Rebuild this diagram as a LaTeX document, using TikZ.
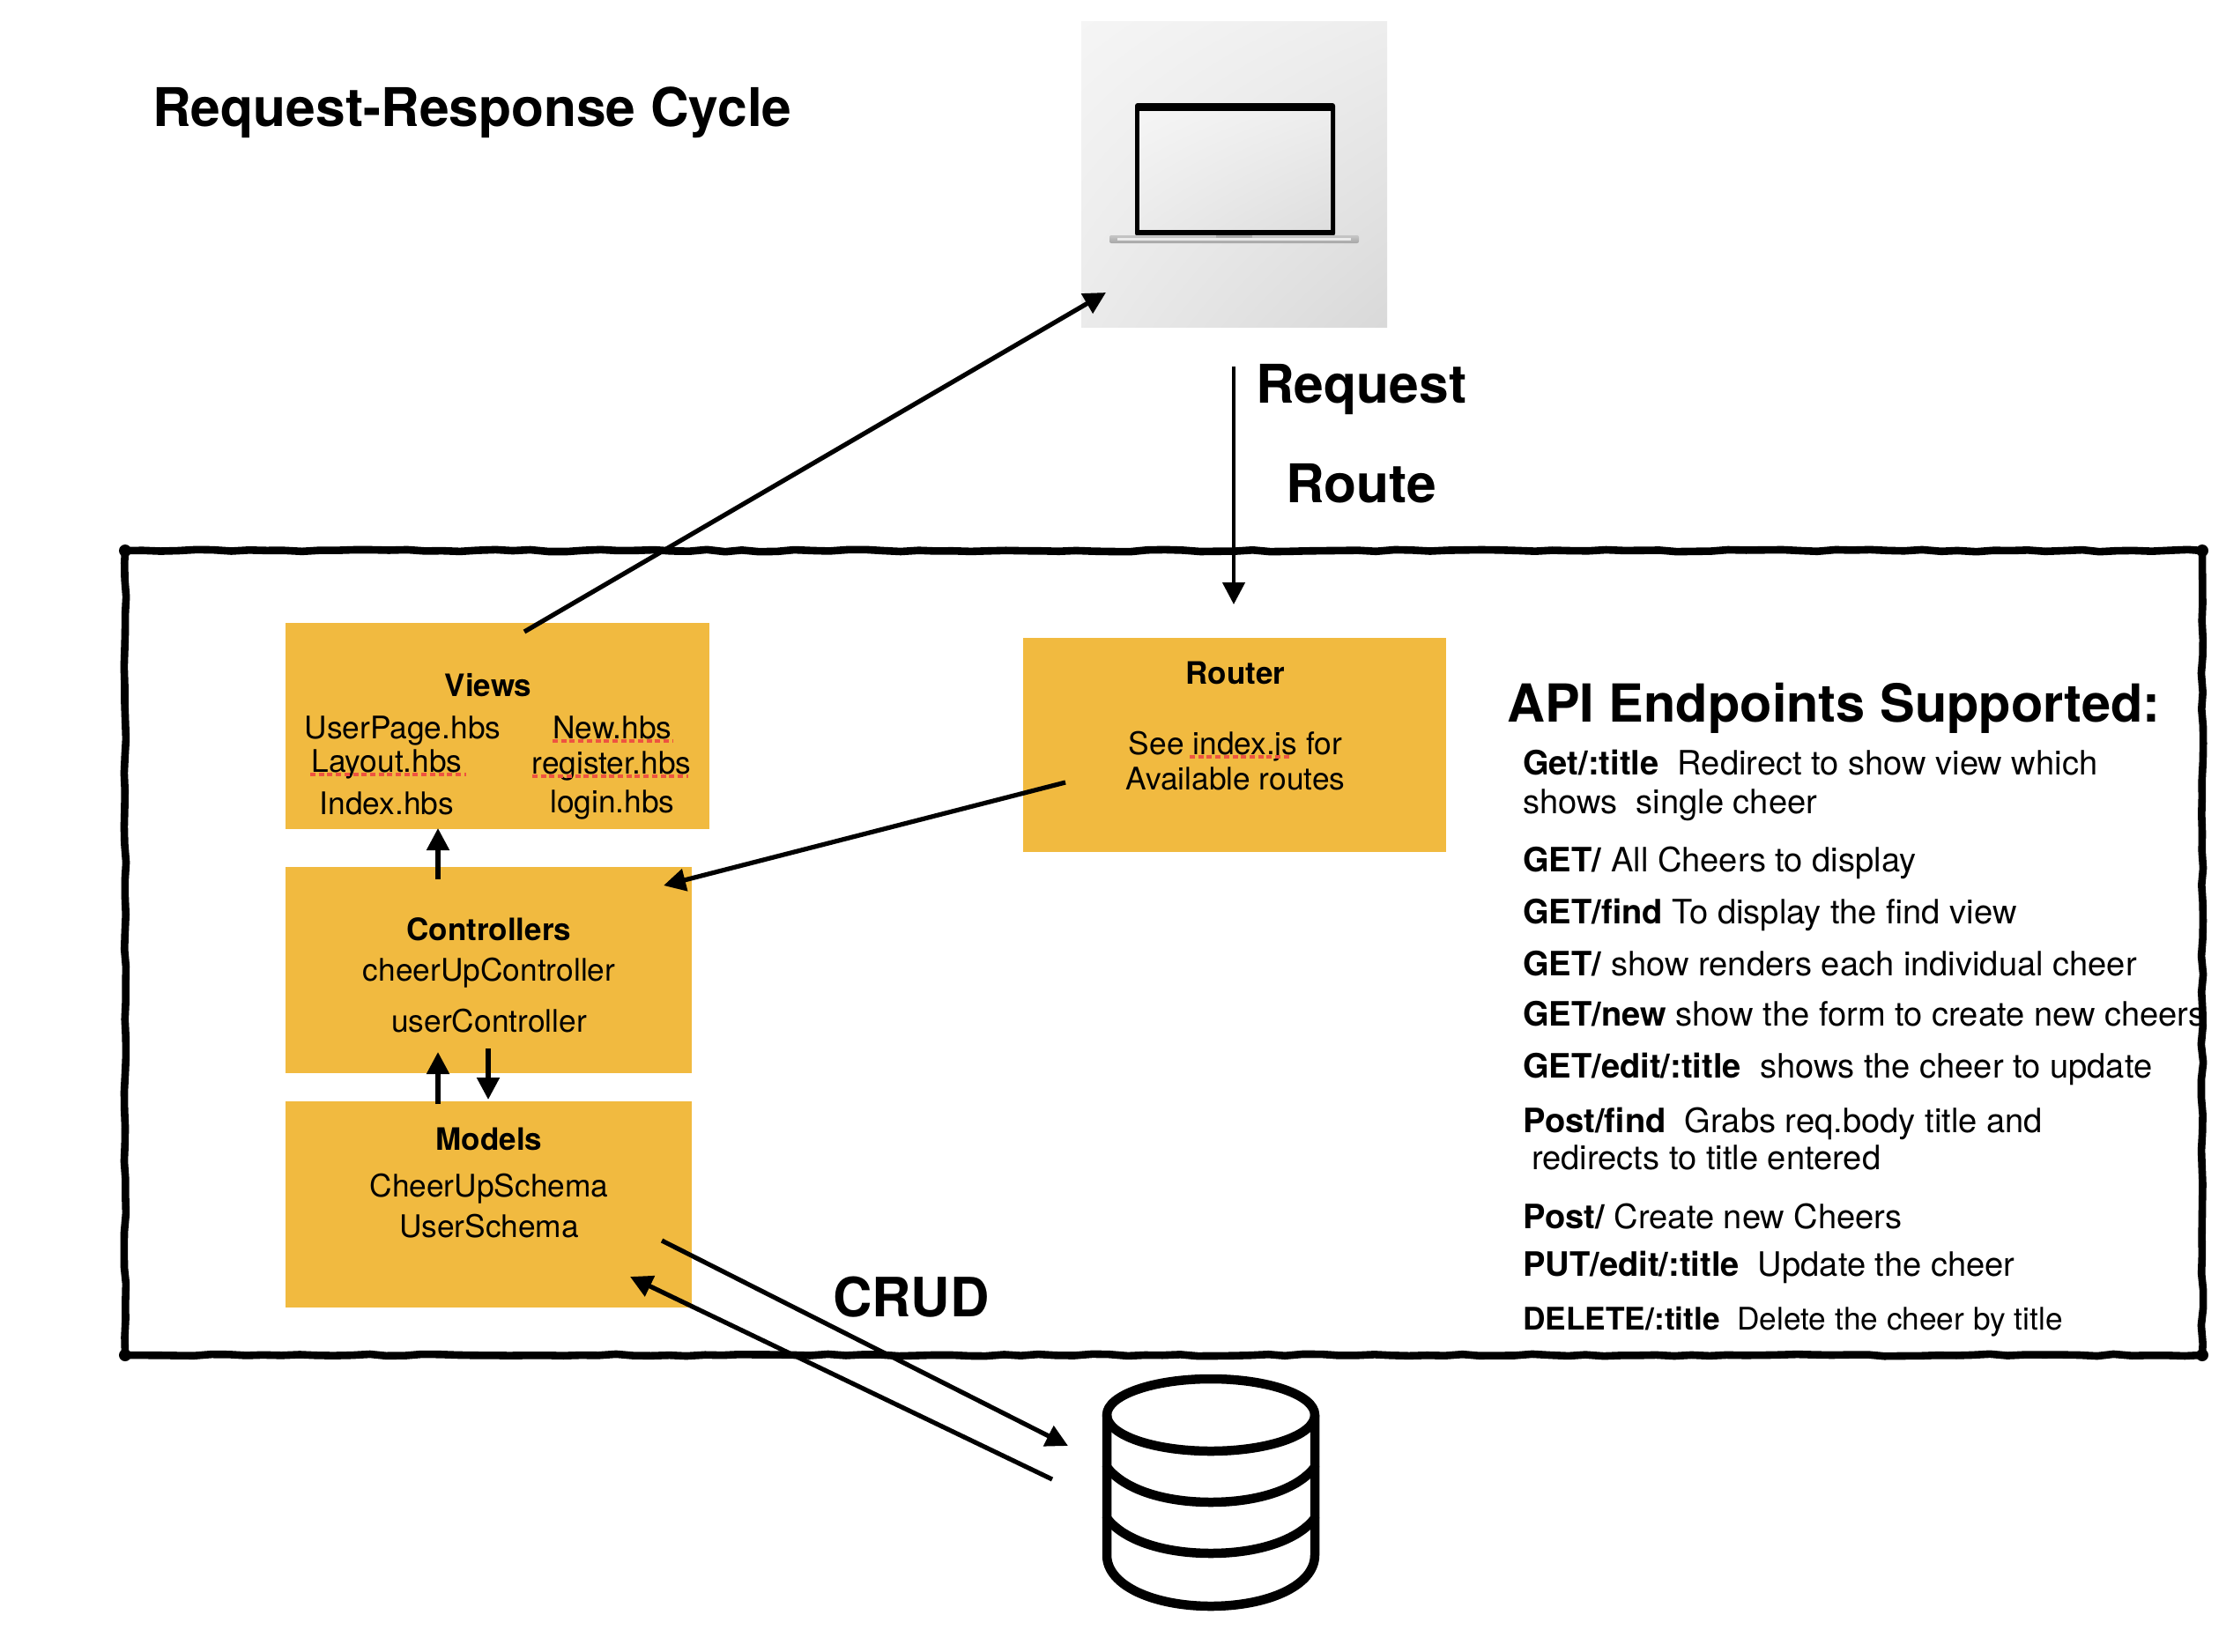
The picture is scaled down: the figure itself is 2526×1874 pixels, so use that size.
\documentclass[tikz,border=0pt]{standalone}
\usepackage{fontspec}
\setmainfont{TeX Gyre Heros}
\usetikzlibrary{arrows.meta,decorations.pathmorphing,shadings}
\definecolor{boxfill}{HTML}{F1BA40}
\definecolor{squig}{HTML}{EE5340}
\tikzset{
  box/.style={fill=boxfill,inner sep=0pt,anchor=north west},
  body/.style={font=\fontsize{35.3}{36}\selectfont,inner sep=0pt,anchor=base},
  bodyl/.style={font=\fontsize{38.1}{38}\selectfont,inner sep=0pt,anchor=base west},
  small/.style={font=\fontsize{35.3}{36}\selectfont,inner sep=0pt,anchor=base west},
  head/.style={font=\fontsize{35}{35}\selectfont\bfseries,inner sep=0pt,anchor=base},
  big/.style={font=\fontsize{60.5}{61}\selectfont\bfseries,inner sep=0pt,anchor=base west},
  conn/.style={line width=5.2pt,-{Triangle[length=25pt,width=25pt]}},
  spell/.style={color=squig,line width=3.8pt,dash pattern=on 6pt off 3.7pt},
  dbline/.style={line width=10.5pt,line cap=round,line join=round},
  frameline/.style={line width=8.6pt,line join=round,decorate,decoration={random steps,segment length=20pt,amplitude=1.2pt}}
}
\begin{document}
\begin{tikzpicture}[x=1pt,y=-1pt]
\pgfmathsetseed{7}
\useasboundingbox (0,0) rectangle (2526,1874);
% laptop
\node[inner sep=0pt,anchor=north west,minimum width=347pt,minimum height=347pt,shade,
  upper left=black!4,upper right=black!7,lower left=black!8,lower right=black!15] (laptop) at (1227,24) {};
\fill[black,rounded corners=3pt] (1288,117) rectangle (1515,268);
\shade[upper left=black!4,upper right=black!7,lower left=black!8,lower right=black!13] (1293,126) rectangle (1510,260);
\shade[top color=black!22,bottom color=black!35,rounded corners=2pt] (1259,267) rectangle (1542,276);
\fill[black!8] (1268,270) rectangle (1533,273);
\fill[black!35] (1380,267) rectangle (1421,270);
% boxes
\node[box,minimum width=481pt,minimum height=234pt] (views) at (324,707) {};
\node[box,minimum width=461pt,minimum height=234pt] (controllers) at (324,984) {};
\node[box,minimum width=461pt,minimum height=234pt] (models) at (324,1250) {};
\node[box,minimum width=480pt,minimum height=243pt] (router) at (1161,724) {};
% title and labels
\node[big] (title) at (173,143) {Request-Response Cycle};
\node[big] (req) at (1425,457) {Request};
\node[big] (route) at (1459,570) {Route};
\node[big,font=\fontsize{61.5}{62}\selectfont\bfseries] (crud) at (945,1494) {CRUD};
\node[big,font=\fontsize{59.5}{60}\selectfont\bfseries] (api) at (1710,819) {API Endpoints Supported:};
% views text
\node[head] (t1) at (554,790) {Views};
\node[body] (t2) at (457,838) {UserPage.hbs};
\node[body] (t3) at (439,876) {Layout.hbs};
\node[body] (t4) at (439,924) {Index.hbs};
\node[body] (t5) at (695,838) {New.hbs};
\node[body] (t6) at (694,878) {register.hbs};
\node[body] (t7) at (695,922) {login.hbs};
\draw[spell] (352,879) -- (529,879);
\draw[spell] (627,841) -- (763,841);
\draw[spell] (604,881) -- (781,881);
% controllers text
\node[head] (t8) at (555,1067) {Controllers};
\node[body] (t9) at (555,1113) {cheerUpController};
\node[body] (t10) at (555,1171) {userController};
% models text
\node[head] (t11) at (555,1305) {Models};
\node[body] (t12) at (555,1358) {CheerUpSchema};
\node[body] (t13) at (555,1404) {UserSchema};
% router text
\node[head] (t14) at (1402,776) {Router};
\node[body] (t15) at (1402,856) {See index.js for};
\node[body] (t16) at (1402,896) {Available routes};
\draw[spell] (1350,859) -- (1466,859);
% endpoints
\node[bodyl] (e1) at (1728,879) {\textbf{Get/:title}\ \ Redirect to show view which};
\node[bodyl] (e2) at (1728,923) {shows\ \ single cheer};
\node[bodyl] (e3) at (1728,989) {\textbf{GET/} All Cheers to display};
\node[bodyl] (e4) at (1728,1048) {\textbf{GET/find} To display the find view};
\node[bodyl] (e5) at (1728,1107) {\textbf{GET/} show renders each individual cheer};
\node[bodyl] (e6) at (1728,1164) {\textbf{GET/new} show the form to create new cheers};
\node[bodyl] (e7) at (1728,1223) {\textbf{GET/edit/:title}\ \ shows the cheer to update};
\node[bodyl] (e8) at (1728,1285) {\textbf{Post/find}\ \ Grabs req.body title and};
\node[bodyl] (e9) at (1738,1327) {redirects to title entered};
\node[bodyl] (e10) at (1728,1394) {\textbf{Post/} Create new Cheers};
\node[bodyl] (e11) at (1728,1448) {\textbf{PUT/edit/:title}\ \ Update the cheer};
\node[small] (e12) at (1728,1509) {\textbf{DELETE/:title}\ \ Delete the cheer by title};
% frame
\draw[frameline] (142,625) -- (2499,625) -- (2499,1538) -- (142,1538) -- cycle;
\foreach \p in {(142,625),(2499,625),(2499,1538),(142,1538)} \fill \p circle (7pt);
% database
\coordinate (db) at (1374,1606);
\draw[dbline] (db) ellipse (118pt and 41pt);
\draw[dbline] (1256,1606) -- (1256,1765) .. controls (1256,1800) and (1310,1823) .. (1374,1823) .. controls (1438,1823) and (1492,1800) .. (1492,1765) -- (1492,1606);
\draw[dbline] (1256,1665) .. controls (1275,1690) and (1320,1705) .. (1374,1705) .. controls (1428,1705) and (1473,1690) .. (1492,1665);
\draw[dbline] (1256,1723) .. controls (1275,1748) and (1320,1763) .. (1374,1763) .. controls (1428,1763) and (1473,1748) .. (1492,1723);
% connector ends
\coordinate (vOut) at (595,717);
\coordinate (lapIn) at (1255,332);
\coordinate (reqS) at (1400,416);
\coordinate (routerIn) at (1400,686);
\coordinate (rOut) at (1209,888);
\coordinate (cIn) at (753,1005);
\coordinate (cUpS) at (497,998);
\coordinate (vIn) at (497,940);
\coordinate (mUpS) at (497,1253);
\coordinate (cUpT) at (497,1194);
\coordinate (cDownS) at (554,1190);
\coordinate (mIn) at (554,1248);
\coordinate (mOut) at (751,1408);
\coordinate (dbIn) at (1212,1641);
\coordinate (dbOut) at (1194,1679);
\coordinate (mIn2) at (715,1449);
\draw[conn] (vOut) -- (lapIn);
\draw[conn,line width=4.4pt] (reqS) -- (routerIn);
\draw[conn] (rOut) -- (cIn);
\draw[conn] (cUpS) -- (vIn);
\draw[conn] (mUpS) -- (cUpT);
\draw[conn] (cDownS) -- (mIn);
\draw[conn] (mOut) -- (dbIn);
\draw[conn] (dbOut) -- (mIn2);
\end{tikzpicture}
\end{document}
